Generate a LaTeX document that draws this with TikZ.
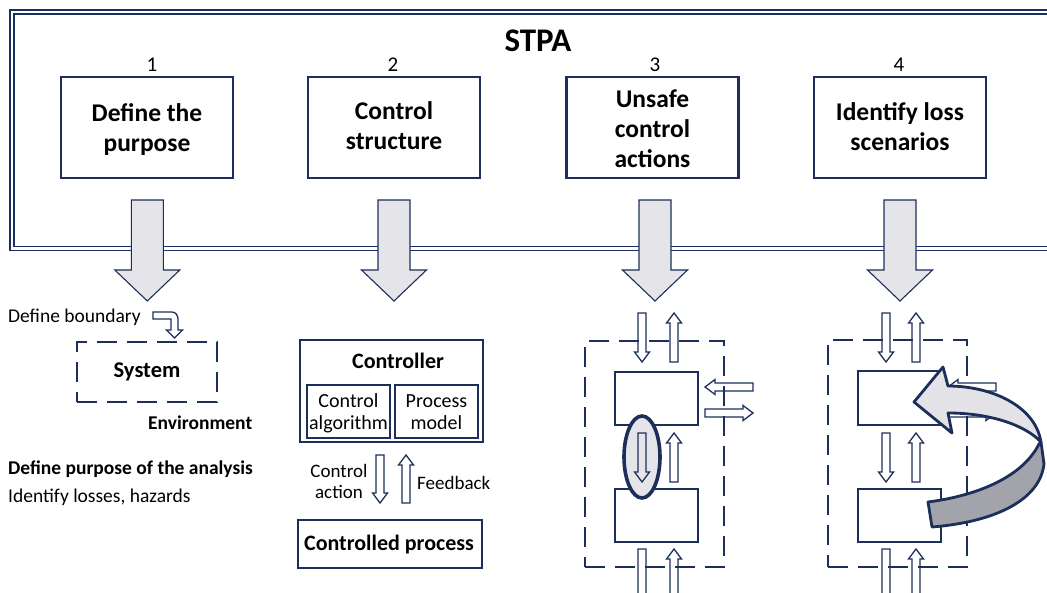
\documentclass[tikz,border=0pt]{standalone}
\usepackage{fontspec}
\setmainfont{Carlito}
\usetikzlibrary{calc}

\definecolor{navy}{HTML}{1C2F5A}
\definecolor{arrowgray}{HTML}{E5E4E9}
\definecolor{ribbonlight}{HTML}{E3E2E7}
\definecolor{ribbondark}{HTML}{A3A3AB}

\tikzset{
  frameline/.style={draw=navy, line width=1.5pt, double=white, double distance=2.5pt},
  stepbox/.style={draw=navy, line width=2.6pt, minimum width=172pt, minimum height=101pt, inner sep=0pt},
  steptext/.style={align=center, font=\bfseries\fontsize{25.5}{30}\selectfont, inner sep=0pt},
  numtext/.style={font=\fontsize{21}{24}\selectfont, inner sep=0pt},
  plain/.style={font=\fontsize{19.5}{22}\selectfont, inner sep=0pt},
  boldlbl/.style={font=\bfseries\fontsize{19.5}{22}\selectfont, inner sep=0pt},
  solidbox/.style={draw=navy, line width=2.4pt, inner sep=0pt},
  dashbox/.style={draw=navy, line width=2.5pt, dash pattern=on 20pt off 10pt, inner sep=0pt},
  hollow/.style={draw=navy, line width=1.3pt, line join=miter},
  bigarr/.style={draw=navy, line width=1.1pt, fill=arrowgray, line join=miter},
  ribbon/.style={draw=navy, line width=2.8pt, line join=round},
  pics/harrow/.style={code={
    \draw[hollow] (0pt,-4pt) -- (#1pt-10pt,-4pt) -- (#1pt-10pt,-7.5pt) -- (#1pt,0pt)
      -- (#1pt-10pt,7.5pt) -- (#1pt-10pt,4pt) -- (0pt,4pt) -- cycle;
  }},
  pics/bigarrow/.style={code={
    \draw[bigarr] (-16pt,0pt) -- (-16pt,-70pt) -- (-32.5pt,-70pt) -- (0pt,-101pt)
      -- (32.5pt,-70pt) -- (16pt,-70pt) -- (16pt,0pt) -- cycle;
  }},
}

\begin{document}
\begin{tikzpicture}[x=1pt, y=-1pt]
  \clip (0,0) rectangle (1047,593);
  \fill[white] (0,0) rectangle (1047,593);

  % STPA frame, open on the right
  \draw[frameline] (1060,12) -- (12,12) -- (12,248.5) -- (1060,248.5);
  \node[font=\bfseries\fontsize{33}{36}\selectfont, inner sep=0pt, anchor=base] (title) at (538,52) {STPA};

  % the four steps
  \node[stepbox] (s1) at (147,127.5) {};
  \node[stepbox] (s2) at (394,127.5) {};
  \node[stepbox] (s3) at (652.5,127.5) {};
  \node[stepbox] (s4) at (900,127.5) {};
  \node[numtext, anchor=base] (n1) at (152,72) {1};
  \node[numtext, anchor=base] (n2) at (393,72) {2};
  \node[numtext, anchor=base] (n3) at (655,72) {3};
  \node[numtext, anchor=base] (n4) at (899,72) {4};
  \node[steptext, anchor=base] (t1) at (147,152) {Define the\\purpose};
  \node[steptext, anchor=base] (t2) at (394,150) {Control\\structure};
  \node[steptext, anchor=base] (t3) at (652.5,168) {Unsafe\\control\\actions};
  \node[steptext, anchor=base] (t4) at (900,151) {Identify loss\\scenarios};

  % step arrows leaving the frame
  \pic at (147.3,200) {bigarrow};
  \pic at (394,200) {bigarrow};
  \pic at (655,200) {bigarrow};
  \pic at (900,200) {bigarrow};

  % ---- step 1: purpose ----
  \node[plain, anchor=base west] (bnd) at (8,323) {Define boundary};
  \draw[hollow] (153,312) -- (172,312) to[out=0, in=90] (178,319) -- (178,330) -- (182.5,330)
    -- (174.5,338) -- (166.5,330) -- (171,330) -- (171,321) -- (171,319) -- (153,319) -- cycle;
  \node[dashbox, minimum width=140pt, minimum height=60pt] (sys) at (147,372) {};
  \node[boldlbl, font=\bfseries\fontsize{22.5}{24}\selectfont, anchor=base] (syst) at (147,378) {System};
  \node[boldlbl, anchor=base west] (env) at (148,430) {Environment};
  \node[boldlbl, anchor=base west] (purp) at (8,475) {Define purpose of the analysis};
  \node[plain, anchor=base west] (loss) at (8,502) {Identify losses, hazards};

  % ---- step 2: control structure ----
  \node[solidbox, minimum width=183pt, minimum height=102pt] (ctrl) at (391.5,391) {};
  \node[boldlbl, font=\bfseries\fontsize{22}{24}\selectfont, anchor=base] (ctrlt) at (398,369) {Controller};
  \node[solidbox, minimum width=83pt, minimum height=53pt] (alg) at (348.5,411.5) {};
  \node[solidbox, minimum width=83pt, minimum height=53pt] (pm) at (436.5,411.5) {};
  \node[plain, font=\fontsize{20}{22}\selectfont, align=center, anchor=base] (algt) at (348.5,430) {Control\\algorithm};
  \node[plain, font=\fontsize{20}{22}\selectfont, align=center, anchor=base] (pmt) at (436.5,430) {Process\\model};
  \pic[rotate=-90] at (380,455) {harrow=48};
  \pic[rotate=90] at (406,503) {harrow=48};
  \node[plain, font=\fontsize{19}{21}\selectfont, align=center, anchor=base] (cat) at (339,498) {Control\\action};
  \node[plain, font=\fontsize{19}{22}\selectfont, anchor=base west] (fbt) at (417,489) {Feedback};
  \node[solidbox, minimum width=184pt, minimum height=48pt] (proc) at (390,544) {};
  \node[boldlbl, font=\bfseries\fontsize{22}{24}\selectfont, anchor=base] (proct) at (389,550) {Controlled process};

  % ---- step 3: unsafe control actions ----
  \pic[rotate=-90] at (642,313) {harrow=49};
  \pic[rotate=90] at (674,362) {harrow=49};
  \pic[rotate=180] at (753,387) {harrow=48};
  \pic at (705,413) {harrow=48};
  \pic[rotate=-90] at (642,549) {harrow=55};
  \pic[rotate=90] at (674,605) {harrow=56};
  \node[dashbox, minimum width=139pt, minimum height=226pt] (b3) at (654.5,454) {};
  \node[solidbox, line width=2.3pt, minimum width=83pt, minimum height=53pt] (u3) at (656.5,398.5) {};
  \node[solidbox, line width=2.3pt, minimum width=83pt, minimum height=53pt] (l3) at (656.5,515.5) {};
  \draw[navy, line width=3.6pt, fill=arrowgray] (642,457) ellipse [x radius=18, y radius=41];
  \pic[rotate=-90] at (642,433) {harrow=49};
  \pic[rotate=90] at (674,482) {harrow=49};

  % ---- step 4: loss scenarios ----
  \pic[rotate=-90] at (886,313) {harrow=49};
  \pic[rotate=90] at (916,362) {harrow=49};
  \pic[rotate=180] at (996,387) {harrow=48};
  \pic at (948,413) {harrow=48};
  \pic[rotate=-90] at (886,549) {harrow=55};
  \pic[rotate=90] at (916,605) {harrow=56};
  \pic[rotate=-90] at (886,433) {harrow=49};
  \pic[rotate=90] at (916,482) {harrow=49};
  \node[dashbox, minimum width=139pt, minimum height=227pt] (b4) at (897.5,453.5) {};
  \node[solidbox, line width=2.3pt, minimum width=83pt, minimum height=54pt] (u4) at (899.5,398) {};
  \node[solidbox, line width=2.3pt, minimum width=83pt, minimum height=53pt] (l4) at (899.5,515.5) {};

  % curved feedback ribbon from the lower block back into the upper block
  \filldraw[ribbon, fill=ribbondark] (1041,442) -- (1044,464)
    .. controls (1040,500) and (995,522) .. (932,527)
    -- (928,502) .. controls (975,496) and (1022,478) .. (1039,444) -- cycle;
  \filldraw[ribbon, fill=ribbonlight] (914,402) -- (943,367) -- (948,386)
    .. controls (990,386) and (1035,405) .. (1041,442)
    .. controls (1025,425) and (990,413) .. (948,413) -- (952,433) -- cycle;
\end{tikzpicture}
\end{document}
